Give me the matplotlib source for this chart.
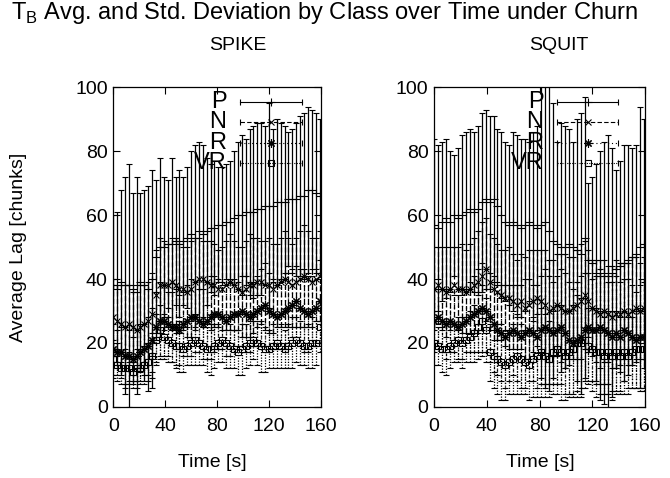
import numpy as np
import matplotlib
matplotlib.use('Agg')
from matplotlib import pyplot as plt

plt.rcParams['font.family'] = ['Liberation Sans', 'DejaVu Sans']

time = np.arange(0, 160, 3)

# SPIKE
spike_p_mean = [38, 37, 39, 38, 38, 37, 38, 39, 38, 37, 40,
                47, 50, 50, 51, 51, 52, 51, 52, 53, 54, 53, 55, 54, 55, 56, 56, 57, 57, 58, 58,
                59, 60, 60, 61, 61, 61, 62, 62, 63, 63, 63, 64, 64, 64, 65, 65, 65, 66, 66, 68, 68, 67, 66]
spike_p_std = [22, 24, 29, 34, 38, 30, 34, 28, 30, 32, 34,
               24, 28, 22, 20, 27, 20, 23, 20, 22, 26, 29, 28, 28, 23, 20, 21, 18, 18, 18, 19,
               21, 23, 25, 23, 26, 27, 27, 27, 25, 32, 24, 26, 25, 24, 21, 22, 24, 25, 26, 26, 25, 25, 24]
spike_n_mean = [28, 27, 26, 25, 26, 25, 24, 25, 26, 27, 29,
                35, 38, 38, 38, 39, 38, 37, 37, 36, 37, 39, 40, 40, 39, 38, 38, 37, 37, 38, 39,
                38, 37, 36, 37, 38, 38, 39, 39, 38, 38, 37, 38, 39, 40, 39, 38, 39, 40, 41, 40, 39, 40, 41]
spike_n_std = [12, 11, 12, 13, 12, 11, 12, 13, 12, 12, 13, 14, 15, 14, 13, 14, 15, 14, 13, 14,
               15, 14, 13, 12, 13, 14, 13, 12, 13, 14, 15, 14, 13, 14, 15, 16, 15, 14, 13, 14,
               15, 14, 13, 14, 15, 14, 13, 14, 15, 16, 15, 14, 13, 14]
spike_r_mean = [18, 17, 17, 16, 16, 15, 16, 17, 18, 19, 21,
                25, 27, 27, 26, 25, 25, 24, 26, 27, 28, 28, 27, 26, 27, 28, 29, 29, 28, 27, 28,
                29, 29, 30, 29, 28, 29, 30, 31, 32, 30, 29, 28, 29, 30, 31, 32, 33, 31, 30, 29, 30, 31, 33]
spike_r_std = [8, 7, 8, 9, 8, 7, 8, 9, 8, 9, 10, 11, 12, 11, 10, 11, 12, 11, 10, 11,
               12, 11, 10, 11, 12, 13, 12, 11, 10, 11, 12, 11, 10, 11, 12, 11, 10, 11, 12, 13,
               12, 11, 10, 11, 12, 11, 10, 11, 12, 13, 12, 11, 12, 13]
spike_vr_mean = [15, 13, 12, 12, 12, 11, 12, 12, 13, 14, 16,
                 21, 24, 22, 21, 20, 19, 19, 18, 19, 20, 21, 20, 19, 18, 18, 19, 20, 21, 20, 19,
                 18, 17, 18, 19, 20, 21, 20, 19, 18, 18, 19, 20, 19, 18, 19, 20, 21, 20, 19, 19, 20, 20, 25]
spike_vr_std = [6, 5, 5, 6, 5, 5, 6, 5, 6, 6, 7, 8, 8, 7, 7, 6, 7, 8, 7, 6,
                7, 8, 7, 6, 7, 8, 7, 6, 7, 8, 7, 6, 7, 8, 7, 7, 6, 7, 8, 7,
                6, 7, 8, 7, 6, 7, 8, 7, 7, 6, 7, 8, 7, 8]

# SQUIT
squit_p_mean = [57, 56, 58, 59, 58, 60, 59, 60, 61, 62, 61,
                62, 64, 65, 64, 65, 63, 60, 58, 57, 58, 57, 56, 57, 58, 57, 56, 57, 58, 55, 52,
                51, 50, 50, 51, 50, 49, 48, 53, 46, 45, 42, 41, 42, 41, 42, 43, 44, 45, 46, 47, 48, 50, 51]
squit_p_std = [27, 26, 25, 25, 22, 19, 22, 25, 25, 25, 25,
               26, 28, 28, 27, 26, 24, 26, 25, 25, 28, 28, 28, 27, 25, 29, 32, 48, 52, 50, 43,
               32, 39, 38, 36, 33, 41, 44, 44, 24, 27, 34, 39, 41, 44, 39, 31, 33, 37, 36, 34, 34, 44, 39]
squit_n_mean = [37, 38, 37, 36, 37, 38, 37, 37, 36, 37, 38,
                39, 41, 43, 39, 37, 36, 35, 34, 34, 33, 32, 33, 31, 32, 33, 34, 33, 32, 30, 31,
                32, 31, 30, 30, 31, 32, 33, 35, 33, 31, 30, 29, 30, 29, 28, 29, 29, 30, 29, 30, 31, 30, 31]
squit_n_std = [13, 12, 13, 14, 13, 12, 13, 14, 13, 14, 15, 16, 17, 16, 15, 16, 15, 14, 15, 16,
               15, 14, 15, 16, 17, 16, 15, 16, 17, 16, 15, 16, 17, 18, 17, 16, 17, 18, 17, 16,
               15, 16, 17, 16, 15, 16, 17, 16, 15, 16, 17, 16, 15, 16]
squit_r_mean = [27, 28, 27, 26, 27, 26, 25, 26, 27, 28, 29,
                30, 31, 30, 28, 26, 24, 23, 22, 23, 24, 23, 22, 23, 24, 23, 22, 24, 25, 24, 23,
                24, 25, 23, 21, 20, 21, 22, 24, 25, 24, 24, 25, 24, 23, 22, 23, 22, 24, 23, 22, 21, 22, 22]
squit_r_std = [10, 9, 10, 11, 10, 9, 10, 11, 10, 11, 12, 13, 14, 13, 14, 15, 14, 15, 16, 15,
               14, 15, 16, 17, 16, 15, 16, 17, 18, 17, 16, 17, 18, 19, 18, 17, 18, 19, 18, 17,
               16, 17, 18, 17, 16, 17, 18, 17, 16, 17, 16, 15, 16, 17]
squit_vr_mean = [20, 19, 18, 18, 19, 20, 21, 20, 21, 22, 23,
                 25, 27, 24, 17, 16, 15, 14, 13, 14, 15, 16, 15, 14, 13, 15, 16, 17, 16, 15, 17,
                 18, 17, 16, 17, 18, 20, 20, 21, 19, 18, 17, 17, 16, 17, 16, 17, 16, 17, 16, 17, 18, 18, 18]
squit_vr_std = [7, 6, 7, 8, 7, 6, 7, 8, 7, 8, 9, 10, 11, 10, 9, 10, 11, 12, 11, 10,
                11, 12, 11, 10, 11, 12, 13, 14, 13, 12, 13, 14, 15, 14, 13, 14, 15, 14, 13, 12,
                13, 14, 13, 12, 13, 14, 13, 12, 13, 12, 11, 12, 13, 12]

classes = ['P', 'N', 'R', 'VR']
styles = {
    'P': dict(ls='-', marker='+', ms=6, mfc='k'),
    'N': dict(ls=(0, (4, 2)), marker='x', ms=5, mfc='k'),
    'R': dict(ls=(0, (1, 2.5)), marker=(8, 2, 0), ms=6, mfc='k'),
    'VR': dict(ls=(0, (1, 1.2)), marker='s', ms=5, mfc='none'),
}


def draw_panel(ax, data, key_text_x, key_x0, key_x1):
    for c in classes:
        mean, std = data[c]
        st = styles[c]
        _, caps, bars = ax.errorbar(time, mean, yerr=std, fmt='none', ecolor='k',
                                    elinewidth=0.9, capsize=2.2, capthick=0.8)
        bars[0].set_linestyle(st['ls'])
        ax.plot(time, mean, ls='none', marker=st['marker'], ms=st['ms'],
                mec='k', mfc=st['mfc'], mew=0.8)

    # gnuplot-like key
    rows = [0.953, 0.891, 0.825, 0.763]
    for c, yk in zip(classes, rows):
        st = styles[c]
        ax.text(key_text_x, yk, c, transform=ax.transAxes, ha='right', va='center',
                fontsize=17)
        ax.plot([key_x0, key_x1], [yk, yk], transform=ax.transAxes, color='k',
                lw=0.8, ls=st['ls'], clip_on=False)
        ax.plot([key_x0, key_x1], [yk, yk], transform=ax.transAxes, ls='none',
                marker='|', ms=4, mec='k', mew=0.8, clip_on=False)
        ax.plot([(key_x0 + key_x1) / 2], [yk], transform=ax.transAxes, ls='none',
                marker=st['marker'], ms=st['ms'], mec='k', mfc=st['mfc'], mew=0.8,
                clip_on=False)

    ax.set_xlim(0, 160)
    ax.set_ylim(0, 100)
    ax.set_xticks([0, 40, 80, 120, 160])
    ax.set_yticks([0, 20, 40, 60, 80, 100])
    ax.tick_params(direction='in', length=5, width=0.8, top=True, right=True,
                   labelsize=14)
    ax.tick_params(axis='y', pad=4)
    ax.tick_params(axis='x', pad=8)
    for sp in ax.spines.values():
        sp.set_linewidth(0.9)


fig = plt.figure(figsize=(6.7, 4.78), dpi=100)
ax1 = fig.add_axes([0.169, 0.149, 0.310, 0.668])
ax2 = fig.add_axes([0.648, 0.149, 0.315, 0.668])

draw_panel(ax1, {'P': (spike_p_mean, spike_p_std), 'N': (spike_n_mean, spike_n_std),
                 'R': (spike_r_mean, spike_r_std), 'VR': (spike_vr_mean, spike_vr_std)},
           0.545, 0.609, 0.907)
draw_panel(ax2, {'P': (squit_p_mean, squit_p_std), 'N': (squit_n_mean, squit_n_std),
                 'R': (squit_r_mean, squit_r_std), 'VR': (squit_vr_mean, squit_vr_std)},
           0.517, 0.583, 0.872)

fig.text(0.027, 0.483, 'Average Lag [chunks]', rotation=90, ha='center', va='center',
         fontsize=14)
fig.text(0.317, 0.033, 'Time [s]', ha='center', va='center', fontsize=14)
fig.text(0.807, 0.033, 'Time [s]', ha='center', va='center', fontsize=14)

fig.text(0.484, 0.973, 'T$_\\mathregular{B}$ Avg. and Std. Deviation by Class over Time under Churn',
         ha='center', va='center', fontsize=17)
fig.text(0.355, 0.904, 'SPIKE', ha='center', va='center', fontsize=14)
fig.text(0.834, 0.904, 'SQUIT', ha='center', va='center', fontsize=14)

fig.savefig('out.png', dpi=100)
